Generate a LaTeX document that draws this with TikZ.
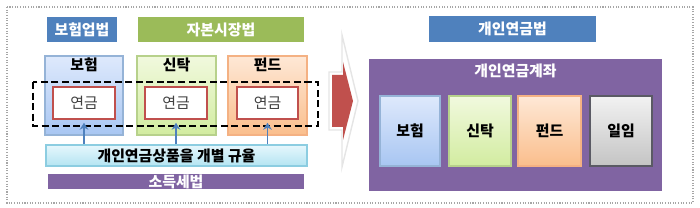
\documentclass[tikz,border=0pt]{standalone}
\usepackage{fontspec}
\setmainfont{Noto Sans CJK KR}
\usetikzlibrary{positioning, arrows.meta, shadows}
\definecolor{LawBlue}{RGB}{79, 129, 189}
\definecolor{LawGreen}{RGB}{155, 187, 89}
\definecolor{LawPurple}{RGB}{128, 100, 162}
\definecolor{AnnuityRed}{RGB}{192, 80, 77}
\definecolor{InsTop}{RGB}{222, 233, 252}
\definecolor{InsBottom}{RGB}{168, 198, 242}
\definecolor{InsEdge}{RGB}{149, 179, 215}
\definecolor{TrustTop}{RGB}{241, 249, 222}
\definecolor{TrustBottom}{RGB}{210, 236, 160}
\definecolor{TrustEdge}{RGB}{183, 209, 139}
\definecolor{FundTop}{RGB}{254, 232, 214}
\definecolor{FundBottom}{RGB}{250, 190, 140}
\definecolor{FundEdge}{RGB}{244, 177, 131}
\definecolor{DiscTop}{RGB}{242, 242, 242}
\definecolor{DiscBottom}{RGB}{196, 196, 196}
\definecolor{DiscEdge}{RGB}{90, 90, 100}
\definecolor{RegTop}{RGB}{230, 247, 252}
\definecolor{RegBottom}{RGB}{180, 228, 242}
\definecolor{RegEdge}{RGB}{140, 205, 225}

\begin{document}
\begin{tikzpicture}[x=0.02cm, y=-0.02cm,
    sz/.style 2 args={minimum width=#1*0.02cm, minimum height=#2*0.02cm},
    every node/.style={inner sep=0pt, font=\fontsize{8.5}{10}\selectfont},
    lawbox/.style={draw=white, line width=1.2pt, text=white, font=\fontsize{8.5}{10}\selectfont\bfseries,
      drop shadow={opacity=0.3, shadow xshift=0.5pt, shadow yshift=-0.7pt}},
    prodbox/.style={draw=#1Edge, top color=#1Top, bottom color=#1Bottom, line width=0.6pt,
      drop shadow={opacity=0.25, shadow xshift=0.5pt, shadow yshift=-0.6pt}},
    tagtext/.style={text=black, font=\fontsize{8.5}{10}\selectfont\bfseries},
    annbox/.style={draw=AnnuityRed, line width=1.3pt, fill=white, text=black!75},
    annframe/.style={black, line width=1.2pt, dash pattern=on 4pt off 2pt},
    regbar/.style={draw=RegEdge, top color=RegTop, bottom color=RegBottom, line width=0.6pt},
    flow/.style={LawBlue, line width=0.9pt, -{Stealth[length=4pt, width=5pt]}}]
    \useasboundingbox (0,0) rectangle (700,208);

    % Outer frame
    \draw[gray!70, line width=0.6pt, dash pattern=on 0.6pt off 0.9pt] (7,7) rectangle (693,203);

    % Current laws
    \node[lawbox, fill=LawBlue, sz={72}{27}] (lawIns) at (82,29.5) {보험업법};
    \node[lawbox, fill=LawGreen, sz={168}{27}] (lawCap) at (221,29.5) {자본시장법};

    % Products under each law
    \node[prodbox=Ins, sz={78}{79}] (prodIns) at (84,95.5) {};
    \node[prodbox=Trust, sz={79}{79}] (prodTrust) at (176.5,95.5) {};
    \node[prodbox=Fund, sz={79}{79}] (prodFund) at (267.5,95.5) {};
    \node[tagtext] (tagIns) at (84,65) {보험};
    \node[tagtext] (tagTrust) at (176.5,65) {신탁};
    \node[tagtext] (tagFund) at (267.5,65) {펀드};

    % Annuity inside each product
    \node[annbox, sz={62}{32}] (annIns) at (84,103) {연금};
    \node[annbox, sz={62}{32}] (annTrust) at (176,103) {연금};
    \node[annbox, sz={61}{32}] (annFund) at (267.5,103) {연금};
    \draw[annframe] (33,82) rectangle (318,126);

    % Separate regulation
    \node[regbar, tagtext, sz={261}{21}] (regBar) at (176.5,155.5) {개인연금상품을 개별 규율};
    \node[lawbox, fill=LawPurple, sz={258}{17}] (lawTax) at (176,181.5) {소득세법};
    \foreach \p in {annIns, annTrust, annFund}
      \draw[flow] (regBar.north -| \p.south) -- ([yshift=-1.5pt]\p.south);

    % Transition arrow
    \filldraw[fill=white, draw=gray!20, line width=0.8pt]
      (329,72) -- (342,72) -- (342,35) -- (358,101) -- (342,167) -- (342,130) -- (329,130) -- cycle;
    \fill[AnnuityRed]
      (332,75) -- (343,75) -- (343,62) -- (353,101) -- (343,140) -- (343,127) -- (332,127) -- cycle;

    % New law and account
    \node[lawbox, fill=LawBlue, sz={169}{28}] (lawPension) at (512.5,29) {개인연금법};
    \node[lawbox, fill=LawPurple, sz={295}{134}] (acct) at (515.5,125) {};
    \node[text=white, font=\fontsize{8.5}{10}\selectfont\bfseries] (acctTitle) at (515.5,71) {개인연금계좌};
    \node[prodbox=Ins, tagtext, sz={60}{70}] (acctIns) at (410,131) {보험};
    \node[prodbox=Trust, tagtext, sz={62}{70}] (acctTrust) at (480,131) {신탁};
    \node[prodbox=Fund, tagtext, sz={63}{70}] (acctFund) at (549.5,131) {펀드};
    \node[prodbox=Disc, tagtext, sz={62}{70}] (acctDisc) at (621,131) {일임};
\end{tikzpicture}
\end{document}
